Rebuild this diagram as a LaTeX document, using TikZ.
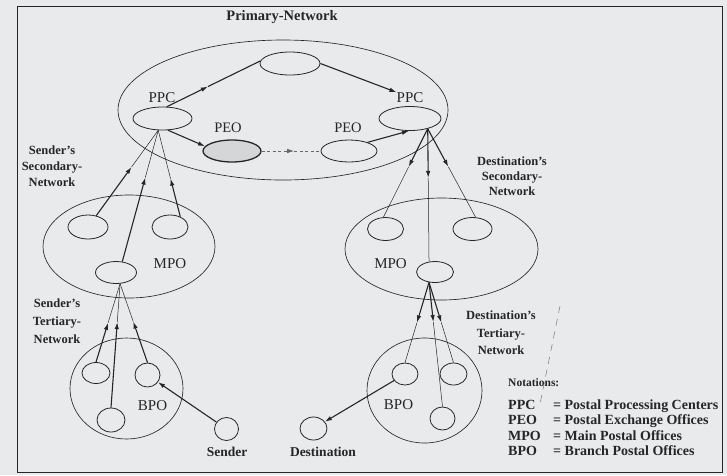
\documentclass[tikz,border=0pt]{standalone}
\usepackage{fontspec}
\setmainfont{Liberation Serif}
\usetikzlibrary{shapes.geometric,arrows.meta,calc}
\definecolor{ink}{HTML}{262626}
\definecolor{bg}{HTML}{E8EAEB}
\definecolor{peofill}{HTML}{D4D6D7}
\newcommand\myarr[5]{%
  \path (#3) -- (#4) coordinate[pos=#5] (tmpm);
  \draw[#1] (#3) -- (tmpm);
  \draw[#2] (tmpm) -- (#4);}
\begin{document}
\begin{tikzpicture}[x=1pt,y=-1pt,
  sz/.style 2 args={minimum width=#1pt,minimum height=#2pt},
  el/.style={ellipse,draw=ink,line width=0.8pt,inner sep=0pt},
  bigel/.style={ellipse,draw=ink,line width=0.65pt,inner sep=0pt},
  lab/.style={text=ink,inner sep=0pt,font=\fontsize{15}{17}\selectfont},
  bl/.style={text=ink,inner sep=0pt,font=\bfseries\fontsize{13.5}{16}\selectfont},
  net/.style={text=ink,inner sep=0pt,align=center},
  nota/.style={text=ink,inner sep=0pt,anchor=base west,font=\bfseries\fontsize{14}{16}\selectfont},
  tk/.style={draw=ink,line width=1.1pt,-{Latex[length=7pt,width=4.5pt]}},
  tkl/.style={draw=ink,line width=1.1pt},
  tn/.style={draw=ink,line width=0.5pt},
  dsh/.style={draw=ink!70,line width=0.7pt,dash pattern=on 3pt off 2.5pt}]
\useasboundingbox (0,0) rectangle (727,475);
\fill[bg] (0,0) rectangle (727,475);
\draw[ink,line width=0.8pt] (17.5,6) rectangle (722,472);
\draw[ink,line width=1.6pt] (17.5,5.6) -- (17.5,472.4);
% big network outlines
\node[bigel,sz={330}{140}] (prim) at (283,110) {};
\node[bigel,sz={172}{103}] (secS) at (129,246.5) {};
\node[bigel,sz={193}{102}] (secD) at (441.5,249) {};
\node[bigel,sz={113}{101}] (terS) at (126.5,388.5) {};
\node[bigel,sz={115}{105}] (terD) at (424.5,390.5) {};
% offices
\node[el,sz={60}{23}] (top) at (290,63.5) {};
\node[el,sz={59}{23}] (ppcL) at (162.5,118.5) {};
\node[el,sz={62}{24}] (ppcR) at (410,118.5) {};
\node[el,sz={58}{22},fill=peofill,line width=1.3pt] (peoL) at (232,151) {};
\node[el,sz={56}{22}] (peoR) at (349,151) {};
\node[el,sz={40}{24}] (s1) at (88,227) {};
\node[el,sz={36}{24}] (s2) at (170,227) {};
\node[el,sz={41}{22}] (mpoS) at (116,272.5) {};
\node[el,sz={36}{23}] (d1) at (385.5,229) {};
\node[el,sz={39}{23}] (d2) at (472.5,229) {};
\node[el,sz={37}{21}] (mpoD) at (435,272) {};
\node[el,sz={28}{21}] (t1) at (96,373) {};
\node[el,sz={25}{24}] (t2) at (147.5,375) {};
\node[el,sz={28}{24}] (t3) at (111,420) {};
\node[el,sz={26}{22}] (u1) at (405,374) {};
\node[el,sz={27}{22}] (u2) at (453.5,374) {};
\node[el,sz={25}{23}] (u3) at (442.5,418.5) {};
\node[el,sz={24}{23}] (snd) at (226.5,429) {};
\node[el,sz={27}{23}] (dst) at (313.5,428.5) {};
% labels
\node[text=ink,inner sep=0pt,font=\bfseries\fontsize{14.5}{17}\selectfont] (ttl) at (282,17) {Primary-Network};
\node[lab] (lppcL) at (162,97.5) {PPC};
\node[lab] (lppcR) at (410,97.5) {PPC};
\node[lab,font=\fontsize{14.5}{17}\selectfont] (lpeoL) at (228,127.5) {PEO};
\node[lab,font=\fontsize{14.5}{17}\selectfont] (lpeoR) at (348,127.5) {PEO};
\node[lab] (lmpoS) at (170,263.5) {MPO};
\node[lab] (lmpoD) at (390.5,263.5) {MPO};
\node[lab] (lbpoS) at (152.5,406) {BPO};
\node[lab] (lbpoD) at (398.5,405) {BPO};
\node[bl] (lsnd) at (227,452) {Sender};
\node[bl] (ldst) at (323,452) {Destination};
\node[net,font=\bfseries\fontsize{12.5}{16}\selectfont] (nSS) at (52,166) {Sender's\\Secondary-\\Network};
\node[net,font=\bfseries\fontsize{12.5}{18}\selectfont] (nST) at (57,321) {Sender's\\Tertiary-\\Network};
\node[net,font=\bfseries\fontsize{12.5}{15}\selectfont] (nDS) at (512,176) {Destination's\\Secondary-\\Network};
\node[net,font=\bfseries\fontsize{12.5}{17.5}\selectfont] (nDT) at (501,333) {Destination's\\Tertiary-\\Network};
% notations
\node[nota,font=\bfseries\fontsize{11.5}{14}\selectfont] (nt) at (508,386) {Notations:};
\node[nota] (k1) at (508,409) {PPC};
\node[nota] (v1) at (553,409) {= Postal Processing Centers};
\node[nota] (k2) at (508,424.5) {PEO};
\node[nota] (v2) at (553,424.5) {= Postal Exchange Offices};
\node[nota] (k3) at (508,440) {MPO};
\node[nota] (v3) at (553,440) {= Main Postal Offices};
\node[nota] (k4) at (508,455.5) {BPO};
\node[nota] (v4) at (553,455.5) {= Branch Postal Offices};
% faint dashed stroke
\draw[ink!55,line width=0.6pt,dash pattern=on 7pt off 6pt] (560,306) -- (540,404);
% primary network
\myarr{tk}{tkl}{ppcL.70}{top.175}{0.44}
\draw[tk] (top.east) -- (lppcR.north west);
\draw[tk] (ppcL.-65) -- (peoL.170);
\path (peoL) -- (peoR) coordinate[pos=0.55] (mP);
\draw[dsh,-{Latex[length=7pt,width=4.5pt]}] (peoL) -- (mP);
\draw[dsh] (mP) -- (peoR);
\draw[tk] (peoR.25) -- (ppcR.-95);
% sender's secondary
\coordinate (cL) at (ppcL.-110);
\myarr{tk}{tn}{s1}{cL}{0.57}
\myarr{tk}{tn}{mpoS.60}{cL}{0.64}
\myarr{tk}{tn}{s2.45}{cL}{0.44}
% destination's secondary
\coordinate (cR) at (ppcR.-30);
\myarr{tk}{tn}{cR}{d1.100}{0.43}
\myarr{tk}{tn}{cR}{mpoD.120}{0.37}
\myarr{tk}{tn}{cR}{d2.75}{0.43}
% sender's tertiary
\coordinate (cS) at (mpoS.-70);
\myarr{tk}{tn}{t1.north}{cS}{0.5}
\myarr{tk}{tn}{t3.north}{cS}{0.69}
\myarr{tk}{tn}{t2.north}{cS}{0.52}
% destination's tertiary
\coordinate (cD) at (mpoD.-120);
\myarr{tk}{tn}{cD}{u1.north}{0.5}
\myarr{tk}{tn}{cD}{u3.north}{0.32}
\myarr{tk}{tn}{cD}{u2.north}{0.5}
% sender / destination
\draw[tk] (snd) -- (t2);
\draw[tk] (u1) -- (dst);
\end{tikzpicture}
\end{document}
